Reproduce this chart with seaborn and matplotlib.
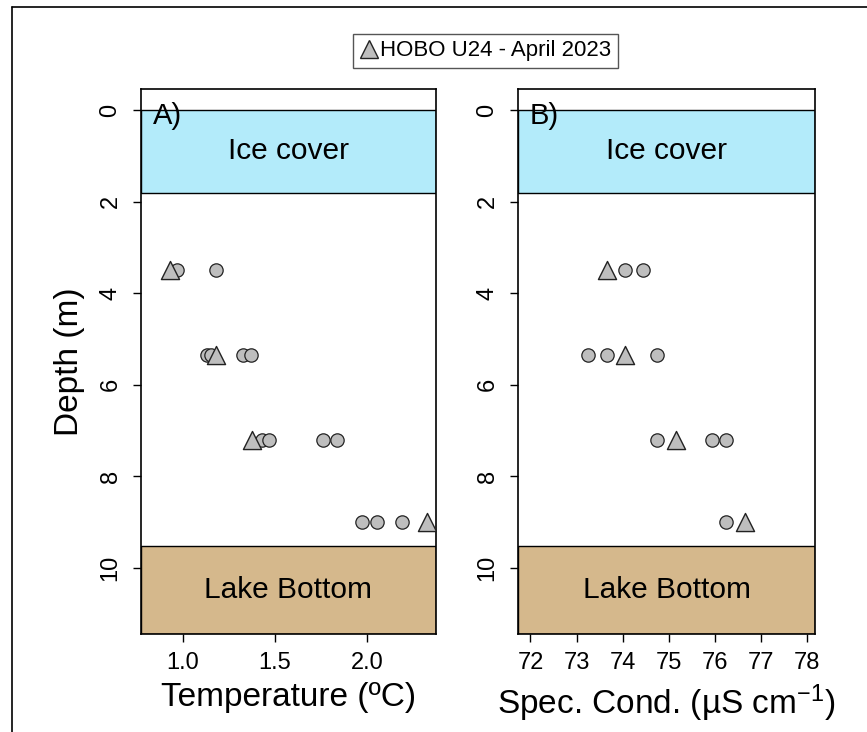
import matplotlib
matplotlib.use("Agg")
import matplotlib.pyplot as plt
from matplotlib.lines import Line2D
import seaborn as sns

# --- data ---
# discrete profile samples (circles)
temp_depth = [3.5, 3.5, 5.35, 5.35, 5.35, 5.35, 7.2, 7.2, 7.2, 7.2, 9.0, 9.0, 9.0]
temp_vals = [0.966, 1.178, 1.13, 1.155, 1.328, 1.368, 1.431, 1.469, 1.763, 1.835, 1.974, 2.053, 2.192]

cond_depth = [3.5, 3.5, 5.35, 5.35, 5.35, 7.2, 7.2, 7.2, 9.0]
cond_vals = [74.06, 74.45, 73.26, 73.66, 74.75, 74.75, 75.95, 76.25, 76.25]

# HOBO U24 logger (triangles)
hobo_depth = [3.5, 5.35, 7.2, 9.0]
hobo_temp = [0.93, 1.18, 1.377, 2.324]
hobo_cond = [73.66, 74.06, 75.16, 76.65]

ice_bottom = 1.8
lake_bottom = 9.52
depth_ticks = [0, 2, 4, 6, 8, 10]
temp_ticks = [1.0, 1.5, 2.0]
cond_ticks = [72, 73, 74, 75, 76, 77, 78]

sns.set_style("ticks")
plt.rcParams["font.family"] = ["Liberation Sans", "DejaVu Sans"]
plt.rcParams["mathtext.fontset"] = "custom"
plt.rcParams["mathtext.rm"] = "Liberation Sans"
plt.rcParams["mathtext.default"] = "regular"
plt.rcParams["text.color"] = "black"
plt.rcParams["axes.labelcolor"] = "black"
plt.rcParams["xtick.color"] = "black"
plt.rcParams["ytick.color"] = "black"

FILL = "#BEBEBE"
EDGE = "#222222"
ICE = "#B3EBFA"
BOTTOM = "#D5B88C"
YLIM = (11.44, -0.46)


def draw_panel(ax, xs, ys, hx, xlim, xticks, xlabel, tag):
    ax.axhspan(0, ice_bottom, facecolor=ICE, edgecolor="black", linewidth=1.0, zorder=1)
    ax.axhspan(lake_bottom, YLIM[0], facecolor=BOTTOM, edgecolor="black", linewidth=1.0, zorder=1)
    sns.scatterplot(x=xs, y=ys, ax=ax, marker="o", s=92, color=FILL,
                    edgecolor=EDGE, linewidth=0.9, zorder=3, legend=False)
    sns.scatterplot(x=hx, y=hobo_depth, ax=ax, marker="^", s=170, color=FILL,
                    edgecolor=EDGE, linewidth=1.0, zorder=4, legend=False)
    ax.set_xlim(*xlim)
    ax.set_ylim(*YLIM)
    ax.set_xticks(xticks)
    ax.set_xticklabels([f"{t:.1f}" if isinstance(t, float) else str(t) for t in xticks])
    ax.set_yticks(depth_ticks)
    ax.set_yticklabels([str(t) for t in depth_ticks], rotation=90, va="center")
    ax.tick_params(axis="both", direction="out", length=6, width=1.0, labelsize=17,
                   colors="black", labelcolor="black")
    ax.tick_params(axis="y", pad=8)
    ax.tick_params(axis="x", pad=7)
    for sp in ax.spines.values():
        sp.set_visible(True)
        sp.set_color("black")
        sp.set_linewidth(1.2)
    ax.set_xlabel(xlabel, fontsize=24, labelpad=6, color="black")
    ax.set_ylabel("")
    xm = sum(xlim) / 2
    ax.text(xm, ice_bottom / 2, "Ice cover", ha="center", va="center", fontsize=21.5,
            color="black", zorder=5)
    ax.text(xm, (lake_bottom + YLIM[0]) / 2, "Lake Bottom", ha="center", va="center",
            fontsize=21.5, color="black", zorder=5)
    ax.text(0.04, 0.95, tag, transform=ax.transAxes, ha="left", va="center", fontsize=21,
            color="black", zorder=5)


fig = plt.figure(figsize=(8.67, 7.32), dpi=100)
ax1 = fig.add_axes([0.1626, 0.1339, 0.3403, 0.7445])
ax2 = fig.add_axes([0.5975, 0.1339, 0.3426, 0.7445])

draw_panel(ax1, temp_vals, temp_depth, hobo_temp, (0.772, 2.375), temp_ticks,
           "Temperature (ºC)", "A)")
draw_panel(ax2, cond_vals, cond_depth, hobo_cond, (71.73, 78.18), cond_ticks,
           r"Spec. Cond. (µS cm$^{-1}$)", "B)")

ax1.set_ylabel("Depth (m)", fontsize=24, color="black")
ax1.yaxis.set_label_coords(-0.19, 0.5)

handle = Line2D([], [], marker="^", ls="none", markersize=13, markerfacecolor=FILL,
                markeredgecolor=EDGE, markeredgewidth=1.0)
leg = fig.legend(handles=[handle], labels=["HOBO U24 - April 2023"], loc="center",
                 bbox_to_anchor=(0.56, 0.9306), frameon=True, fancybox=False,
                 edgecolor="#555555", fontsize=16, handlelength=0.8, handletextpad=0.1,
                 borderpad=0.3, borderaxespad=0, framealpha=1, labelcolor="black")
leg.get_frame().set_linewidth(1.0)

# outer frame (left and top edges)
fig.add_artist(Line2D([12 / 867, 12 / 867], [0, 1 - 7 / 732], transform=fig.transFigure,
                      color="black", lw=1.2))
fig.add_artist(Line2D([12 / 867, 1], [1 - 7 / 732, 1 - 7 / 732], transform=fig.transFigure,
                      color="black", lw=1.2))

fig.savefig("out.png", dpi=100)
plt.close(fig)
